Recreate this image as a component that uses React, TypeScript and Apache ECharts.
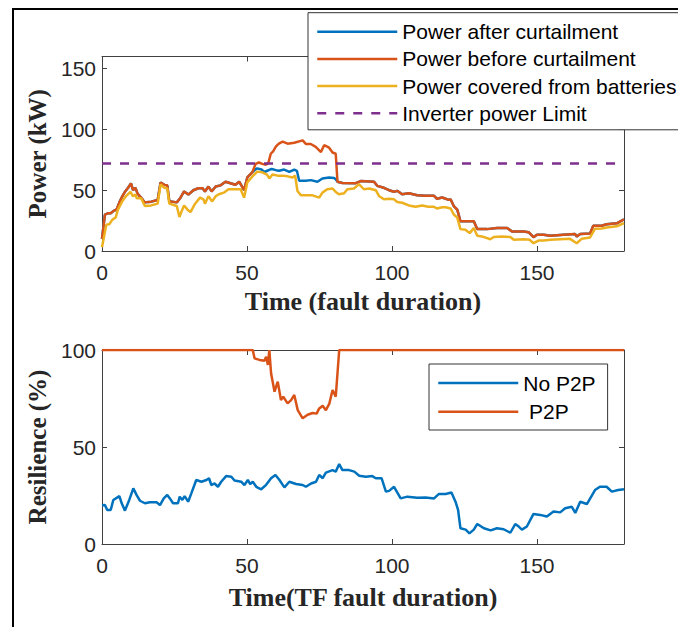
import React, { useEffect, useRef } from "react";
import * as echarts from "echarts";

// ---- data (time, value) ----
const powerBefore: number[][] = [[0,10],[1,30],[2,31],[3,31],[4,33],[5,34],[6,40],[7,45],[8,49],[9,52],[10,55.6],[10.7,50],[11.5,52],[12.3,47],[13.5,44],[14.7,40],[17,40.6],[19.2,42],[20.2,56.4],[21.5,54.4],[22.5,54],[23.2,41],[25.8,40],[27,43.6],[28.3,49],[29.8,46.4],[31.5,50],[33.2,51.6],[34.7,51.6],[35.5,49],[36.7,53],[37.8,49],[39.2,53],[40.9,54],[42.6,57],[44.3,55.7],[46,54.5],[47.3,57],[49,50],[50.1,60.5],[51.8,64.7],[53,71.7],[54.1,72.8],[55.3,71.7],[56.5,71],[57.3,72],[58.2,80],[59,82],[60,86],[61,88.3],[62.3,90],[64,88.3],[66.3,89],[69.2,91],[70.3,88],[72,88],[73.7,85.6],[75.5,81.4],[76.6,87],[78.3,85],[79.5,81],[80.6,80],[81.2,57],[82.9,56],[87.5,55.8],[89.2,57.5],[93.8,57],[94.9,53.6],[97.2,52],[99,50],[100.7,48.7],[101.8,49.5],[103.5,46.7],[105.8,47.5],[108.7,45.8],[111.5,45.5],[114.4,45.5],[115.5,43],[117.3,44],[119.6,42],[120.2,42.5],[121.3,37],[122.5,34],[123.6,24.5],[128.2,24.5],[129.4,18],[132.8,18],[136.2,18.9],[139.7,18.9],[141.4,16],[145.4,16],[147.1,15.5],[148.8,11.4],[150,13.3],[152.3,13.3],[154.6,12.5],[159.1,13.3],[163.1,14],[163.7,12],[164.9,14],[168.3,14.4],[169.4,20.8],[172.3,20.8],[174,22],[177.5,22.8],[180,26]];

const powerAfter: number[][] = [[0,10],[1,30],[2,31],[3,31],[4,33],[5,34],[6,40],[7,45],[8,49],[9,52],[10,55.6],[10.7,50],[11.5,52],[12.3,47],[13.5,44],[14.7,40],[17,40.6],[19.2,42],[20.2,56.4],[21.5,54.4],[22.5,54],[23.2,41],[25.8,40],[27,43.6],[28.3,49],[29.8,46.4],[31.5,50],[33.2,51.6],[34.7,51.6],[35.5,49],[36.7,53],[37.8,49],[39.2,53],[40.9,54],[42.6,57],[44.3,55.7],[46,54.5],[47.3,57],[49,50],[50.1,60.5],[51.8,64.7],[52.8,67],[53.5,68],[55,67],[56,65],[57,66],[58.5,67.5],[60,66.5],[61.1,66],[62.8,67],[64.6,65],[66.3,67],[67.2,66],[68,57.8],[70.3,57.8],[72,58.3],[74.3,57],[76,59.7],[78.3,60.5],[80,60],[80.6,59],[81.2,57],[82.9,56],[87.5,55.8],[89.2,57.5],[93.8,57],[94.9,53.6],[97.2,52],[99,50],[100.7,48.7],[101.8,49.5],[103.5,46.7],[105.8,47.5],[108.7,45.8],[111.5,45.5],[114.4,45.5],[115.5,43],[117.3,44],[119.6,42],[120.2,42.5],[121.3,37],[122.5,34],[123.6,24.5],[128.2,24.5],[129.4,18],[132.8,18],[136.2,18.9],[139.7,18.9],[141.4,16],[145.4,16],[147.1,15.5],[148.8,11.4],[150,13.3],[152.3,13.3],[154.6,12.5],[159.1,13.3],[163.1,14],[163.7,12],[164.9,14],[168.3,14.4],[169.4,20.8],[172.3,20.8],[174,22],[177.5,22.8],[180,26]];

const powerBatteries: number[][] = [[0,3],[1.5,21.7],[2.5,22],[3.6,25.8],[4.7,27.5],[5.5,34],[7,41],[8.2,45],[9.8,48.6],[10.7,45],[11.5,46.5],[12,43.4],[13.5,43.4],[14.8,37],[17,37.5],[19.2,39],[20.2,54.7],[21.5,52],[22.5,51.5],[23.2,39],[25.8,37],[26.7,28],[27.5,33],[28.3,37.4],[29.5,34],[30.5,32],[32.1,38.9],[33.8,43.9],[35,42.5],[35.5,38.9],[36.7,45],[38,40.8],[39.2,45],[40.3,46.7],[42,48],[43.6,50.8],[47.8,50.8],[49,43.9],[50.1,56.4],[51.8,61.1],[53.5,65.3],[55.3,64.7],[56.9,62.8],[57.7,59.7],[58.8,63],[60.6,62],[62.3,62],[64,61.4],[65.7,60.5],[66.6,62],[67.4,49.4],[68.6,45.8],[72.6,45.8],[74.9,43.9],[76,48],[77.7,50.8],[79.5,51.4],[80.6,48.6],[81.7,46.7],[83.5,47.5],[84.6,50.8],[86.9,51.4],[88.6,55],[90.3,50.8],[92.1,51.4],[94.4,50],[95.5,45.3],[97.2,42.5],[99,43],[100.7,42.5],[101.8,40.3],[103.5,39.7],[105.8,37.5],[108.1,36.4],[110.4,37.5],[112.5,36.4],[114.4,36.4],[115.5,35],[117.3,36],[118.5,36],[120.2,35],[121.3,30],[122.5,27.5],[123.6,18],[125.3,17.5],[126.8,14.7],[128.2,19],[129.4,12.5],[131,12],[133.9,9.7],[135.1,11.5],[137.9,12],[140.8,11.5],[142,9.2],[145.4,9.7],[147.5,9.2],[148.8,6.4],[150.5,8.6],[152.3,8.6],[154.6,9.2],[158,9.7],[161.4,10],[163.7,6.4],[165.4,10],[168.3,11.1],[170,18.3],[172.3,18.5],[174,19.4],[177.5,20.3],[180,23]];

const inverterLimit: number[][] = [[0,72],[180,72]];

const resilienceNoP2P: number[][] = [[0,20],[1,20.1],[1.8,17.5],[3,17.5],[3.9,22.7],[6,24.7],[6.8,21],[7.9,17.2],[9.4,22.7],[10.8,28.7],[11.9,25.3],[13.1,22.3],[14.8,21],[16.5,21.5],[18.8,21.5],[20,20.1],[21.3,23.5],[22.5,25.3],[23.4,23.5],[24.5,21],[26.2,21],[26.8,24.4],[27.7,22.7],[28.5,24.7],[29.7,21.8],[30.8,26.1],[32.5,33],[34.3,32.1],[36,33],[36.9,33.9],[37.7,30.4],[38.8,31.2],[40,29.5],[41.1,32.1],[42.8,35],[44.6,34.7],[45.7,32.7],[48,32.1],[49.1,30.4],[50.3,33],[51.1,30.9],[52,32.1],[53.2,29.5],[54.9,28.2],[56.6,30.5],[58.3,33.9],[59.8,35.6],[61.2,33],[62.9,29.2],[64.6,32.1],[66.9,30.9],[69.2,30.4],[70.3,29.5],[72.1,31.2],[73.8,32.1],[74.9,35.6],[76.1,33.9],[77.2,36.8],[79.5,38.1],[80.6,37.3],[81.8,41.2],[82.9,38.1],[85.2,38.1],[87,37.3],[88.7,35.2],[91,34.7],[93.2,35],[94.4,33.9],[96.4,33.9],[97.9,27],[99,27.4],[100.7,29.5],[103,23.5],[105.3,24.4],[108.7,23.9],[111.6,24],[114.5,23.5],[116.2,25.8],[118.5,25.8],[120.5,26.5],[121.9,21.8],[122.8,17.5],[123.6,8.1],[125.4,7.4],[126.7,5.5],[128.2,7.4],[129.4,10.3],[131.7,8.1],[134,7],[136.2,8.1],[138.5,7.6],[140.8,5.8],[142.5,10.3],[143.7,9],[144.8,7.4],[146.5,9],[148.8,15.5],[151.1,15],[153.4,14.2],[155.7,16.8],[158,16.3],[159.7,18.4],[162,19.2],[163.2,16],[164.9,21.8],[167.2,20.6],[170,27.8],[171.7,29.5],[174,29.5],[175.8,27],[178,27.8],[180,28.2]];

const resilienceP2P: number[][] = [[0,100],[52,100],[52.6,95.7],[54.3,94.9],[56,94.5],[56.6,96.5],[57.2,92.3],[57.7,100],[58.3,88],[59.5,78.5],[60.6,83.7],[61.7,74.2],[62.5,75.9],[64,72.5],[65.2,74.2],[66.3,76.8],[67.5,69],[69.2,64.8],[70.9,66.6],[72.6,67.5],[74,67.2],[74.9,69.9],[76.1,71.2],[77.2,69],[78.4,72.4],[79.5,79.4],[80.6,75.9],[81.8,100],[180,100]];

const topNames = ["Power after curtailment", "Power before curtailment", "Power covered from batteries", "Inverter power Limit"];
const bottomNames = ["No P2P", " P2P"];
const xTitleTop = "Time (fault duration)";
const xTitleBottom = "Time(TF fault duration)";
const yTitleTop = "Power (kW)";
const yTitleBottom = "Resilience (%)";

const BLUE = "#0072BD";
const ORANGE = "#D95319";
const YELLOW = "#EDB120";
const PURPLE = "#7E2F8E";
const AXIS = "#404040";
const TXT = "#262626";

export default function App() {
  const ref = useRef<HTMLDivElement>(null);
  useEffect(() => {
    if (!ref.current) return;
    const chart = echarts.init(ref.current, null, { renderer: "svg" });
    const tickLabel = { fontFamily: "Liberation Sans", fontSize: 21, color: TXT };
    const titleStyle = { fontFamily: "Liberation Serif", fontWeight: "bold", color: TXT };
    const lineS = { color: AXIS, width: 1 };
    const mkX = (grid: number, pos: string, main: boolean, name?: string, gap?: number, fs?: number) => ({
      gridIndex: grid, type: "value", min: 0, max: 180, interval: 50, position: pos,
      axisLine: { show: true, onZero: false, lineStyle: lineS },
      axisTick: { show: true, inside: true, length: 5, lineStyle: lineS },
      axisLabel: main ? { ...tickLabel, margin: 11, showMaxLabel: false } : { show: false },
      splitLine: { show: false },
      name: main ? name : undefined, nameLocation: "middle", nameGap: gap,
      nameTextStyle: { ...titleStyle, fontSize: fs },
    });
    const mkY = (grid: number, pos: string, main: boolean, max: number, name?: string, gap?: number) => ({
      gridIndex: grid, type: "value", min: 0, max, interval: 50, position: pos,
      axisLine: { show: true, onZero: false, lineStyle: lineS },
      axisTick: { show: true, inside: true, length: 5, lineStyle: lineS },
      axisLabel: main ? { ...tickLabel, margin: 6, showMaxLabel: max === 100 } : { show: false },
      splitLine: { show: false },
      name: main ? name : undefined, nameLocation: "middle", nameGap: gap, nameRotate: 90,
      nameTextStyle: { ...titleStyle, fontSize: 25 },
    });
    const ln = (name: string, data: number[][], color: string, xi: number, yi: number, extra: any = {}) => ({
      name, type: "line", data, xAxisIndex: xi, yAxisIndex: yi,
      symbol: "none", showSymbol: false, clip: true,
      lineStyle: { color, width: 2.5, ...extra }, itemStyle: { color },
    });
    const legendCommon = {
      orient: "vertical", itemWidth: 80, itemHeight: 20,
      backgroundColor: "#ffffff", borderColor: "#333333", borderWidth: 1,
      selectedMode: false,
      itemStyle: { opacity: 0, borderWidth: 0 },
      lineStyle: { width: 2.5 },
      textStyle: { fontFamily: "Liberation Sans", fontSize: 21, color: "#000", lineHeight: 21 },
    };
    chart.setOption({
      animation: false,
      backgroundColor: "#ffffff",
      grid: [
        { left: 102, top: 56.5, width: 522, height: 194.5 },
        { left: 102, top: 350, width: 522, height: 194 },
      ],
      xAxis: [
        mkX(0, "bottom", true, xTitleTop, 37, 26),
        mkX(0, "top", false),
        mkX(1, "bottom", true, xTitleBottom, 40, 26),
        mkX(1, "top", false),
      ],
      yAxis: [
        mkY(0, "left", true, 160, yTitleTop, 43),
        mkY(0, "right", false, 160),
        mkY(1, "left", true, 100, yTitleBottom, 43),
        mkY(1, "right", false, 100),
      ],
      legend: [
        {
          ...legendCommon,
          data: topNames, left: 308, top: 12.7,
          itemGap: 6.2, padding: [8.5, 12, 6, 8],
        },
        {
          ...legendCommon,
          data: bottomNames, left: 429, top: 364,
          itemGap: 7.7, padding: [8.5, 12, 7.8, 8],
        },
      ],
      graphic: [
        {
          type: "rect", shape: { x: 13, y: 9, width: 800, height: 800 },
          style: { fill: "none", stroke: "#000", lineWidth: 2 }, z: 100, silent: true,
        },
      ],
      series: [
        ln(topNames[0], powerAfter, BLUE, 0, 0),
        ln(topNames[1], powerBefore, ORANGE, 0, 0),
        ln(topNames[2], powerBatteries, YELLOW, 0, 0),
        ln(topNames[3], inverterLimit, PURPLE, 0, 0, { type: [9, 9] }),
        ln(bottomNames[0], resilienceNoP2P, BLUE, 2, 2),
        ln(bottomNames[1], resilienceP2P, ORANGE, 2, 2),
      ],
    });
    return () => chart.dispose();
  }, []);
  return (
    <div
      ref={ref}
      style={{ position: "absolute", left: 0, top: 0, width: 678, height: 627 }}
    />
  );
}
